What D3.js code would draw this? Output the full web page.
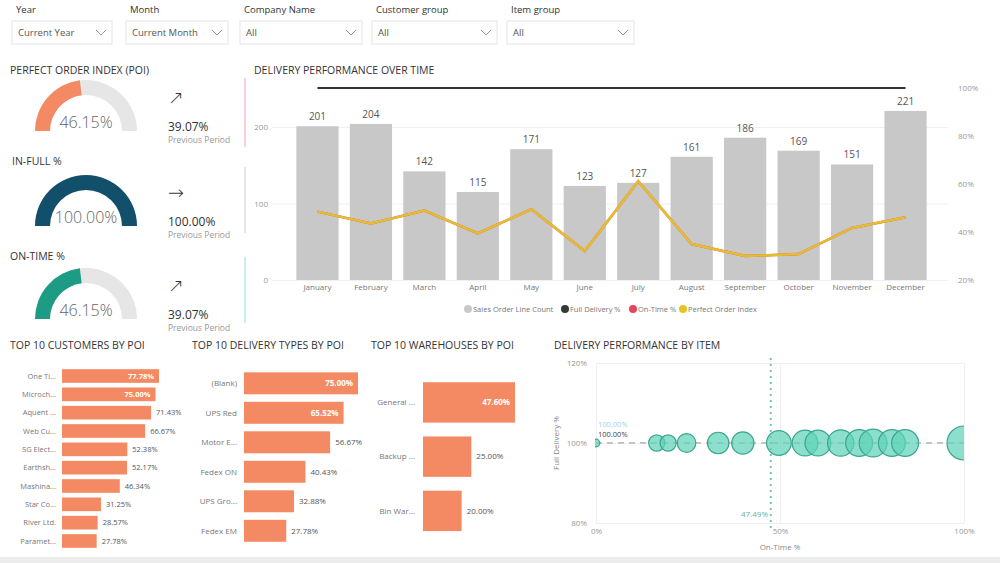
<!DOCTYPE html>
<html><head><meta charset="utf-8">
<script src="https://cdn.jsdelivr.net/npm/d3@7"></script>
<style>
body{margin:0;background:#fff;}
svg{display:block;font-family:"Open Sans","Noto Sans",sans-serif;}
</style></head><body>
<svg id="c" width="1000" height="563"></svg>
<script>
// ---------------- DATA ----------------
const filterLabels = ["Year", "Month", "Company Name", "Customer group", "Item group"];
const filterValues = ["Current Year", "Current Month", "All", "All", "All"];

const kpiTitles = ["PERFECT ORDER INDEX (POI)", "IN-FULL %", "ON-TIME %"];
const kpiValues = [46.15, 100.00, 46.15];
const kpiPrevious = [39.07, 100.00, 39.07];
const kpiArrows = ["↗", "→", "↗"];

const months = ["January","February","March","April","May","June","July","August","September","October","November","December"];
const salesOrderLineCount = [201, 204, 142, 115, 171, 123, 127, 161, 186, 169, 151, 221];
const fullDeliveryPct = [100, 100, 100, 100, 100, 100, 100, 100, 100, 100, 100, 100];
const onTimePct = [48.5, 43.6, 48.9, 39.4, 49.5, 32.1, 61.2, 35.0, 30.0, 30.8, 41.7, 46.15];
const perfectOrderIndex = [48.5, 43.6, 48.9, 39.4, 49.5, 32.1, 61.2, 35.0, 30.0, 30.8, 41.7, 46.15];
const leftTicks = [0, 100, 200];
const rightTicks = [20, 40, 60, 80, 100];
const legendLabels = ["Sales Order Line Count", "Full Delivery %", "On-Time %", "Perfect Order Index"];

const customerNames = ["One Ti...", "Microch...", "Aquent ...", "Web Cu...", "SG Elect...", "Earthsh...", "Mashina...", "Star Co...", "River Ltd.", "Paramet..."];
const customerPOI = [77.78, 75.00, 71.43, 66.67, 52.38, 52.17, 46.34, 31.25, 28.57, 27.78];

const deliveryTypes = ["(Blank)", "UPS Red", "Motor E...", "Fedex ON", "UPS Gro...", "Fedex EM"];
const deliveryTypePOI = [75.00, 65.52, 56.67, 40.43, 32.88, 27.78];

const warehouses = ["General ...", "Backup ...", "Bin War..."];
const warehousePOI = [47.60, 25.00, 20.00];

const itemOnTime = [0, 16.5, 19.6, 24.6, 33.2, 39.9, 49.7, 56.8, 60.3, 66.5, 71.5, 75.3, 80.4, 84.0, 100];
const itemFullDelivery = [100, 100, 100, 100, 100, 100, 100, 100, 100, 100, 100, 100, 100, 100, 100];
const itemOrderLines = [2, 9, 9, 12, 16, 17, 21, 23, 23, 24, 25, 27, 25, 25, 40];
const avgOnTime = 47.49;
const avgFullDelivery = 100.00;
const scatterXTicks = [0, 50, 100];
const scatterYTicks = [80, 100, 120];

// ---------------- DRAW ----------------
const svg = d3.select("#c");
svg.append("rect").attr("width", 1000).attr("height", 563).attr("fill", "#fff");

// Filters
const fX = [12, 126, 240, 372, 507];
const fW = [100, 102, 122, 125, 127];
filterLabels.forEach((l, i) => {
  svg.append("text").attr("x", fX[i] + 4).attr("y", 13).attr("font-size", 9.5).attr("fill", "#333").text(l);
  svg.append("rect").attr("x", fX[i]).attr("y", 21).attr("width", fW[i]).attr("height", 23)
    .attr("fill", "#fff").attr("stroke", "#e4e4e4");
  svg.append("text").attr("x", fX[i] + 6).attr("y", 36).attr("font-size", 9.5).attr("fill", "#555").text(filterValues[i]);
  const cx = fX[i] + fW[i] - 11;
  svg.append("path").attr("d", `M${cx-5},30 L${cx},35 L${cx+5},30`).attr("fill", "none").attr("stroke", "#999").attr("stroke-width", 1);
});

// KPI gauges
const gaugeColors = ["#f48a63", "#124f6b", "#1e9b85"];
const gaugeCY = [131, 226, 319];
const titleY = [74, 165, 260];
const angle = d3.scaleLinear().domain([0, 100]).range([-Math.PI / 2, Math.PI / 2]);
const arc = d3.arc().innerRadius(36).outerRadius(51);
kpiTitles.forEach((t, i) => {
  svg.append("text").attr("x", i === 1 ? 12 : 10).attr("y", titleY[i]).attr("font-size", 10.5).attr("fill", "#333").text(t);
  const g = svg.append("g").attr("transform", `translate(86,${gaugeCY[i]})`);
  g.append("path").attr("d", arc({startAngle: angle(0), endAngle: angle(100)})).attr("fill", "#e6e6e6");
  g.append("path").attr("d", arc({startAngle: angle(0), endAngle: angle(kpiValues[i])})).attr("fill", gaugeColors[i]);
  g.append("text").attr("x", 0).attr("y", -3).attr("text-anchor", "middle").attr("font-size", 16).attr("font-weight", 300)
    .attr("fill", "#666").text(kpiValues[i].toFixed(2) + "%");
  const base = gaugeCY[i];
  svg.append("text").attr("x", 168).attr("y", base - 27).attr("font-size", 19).attr("fill", "#333")
    .attr("font-family", "DejaVu Sans").attr("font-weight", 200).text(kpiArrows[i]);
  svg.append("text").attr("x", 168).attr("y", base).attr("font-size", 12).attr("fill", "#333").text(kpiPrevious[i].toFixed(2) + "%");
  svg.append("text").attr("x", 168).attr("y", base + 12).attr("font-size", 8.5).attr("fill", "#999").text("Previous Period");
});

// left accent lines
[[78, 147, "#f6c2cb"], [167, 233, "#dedede"], [257, 323, "#b5ead9"]].forEach(s => {
  svg.append("line").attr("x1", 245).attr("x2", 245).attr("y1", s[0]).attr("y2", s[1]).attr("stroke", s[2]).attr("stroke-width", 1.5);
});

// Main combo chart
svg.append("text").attr("x", 254).attr("y", 74).attr("font-size", 10.5).attr("fill", "#333").text("DELIVERY PERFORMANCE OVER TIME");
const x = d3.scaleBand().domain(months).range([291, 932]).paddingInner(0.21).paddingOuter(0.1);
const yL = d3.scaleLinear().domain([0, 250]).range([280, 88.75]);
const yR = d3.scaleLinear().domain([20, 100]).range([280, 88]);

const gl = svg.append("g").attr("transform", "translate(272,0)")
  .call(d3.axisLeft(yL).tickValues(leftTicks).tickSize(-(948 - 272)).tickPadding(4));
gl.select(".domain").remove();
gl.selectAll("line").attr("stroke", "#f0f0f0");
gl.selectAll("text").attr("fill", "#999").attr("font-size", 8).attr("font-family", "Open Sans");

const gr = svg.append("g").attr("transform", "translate(952,0)")
  .call(d3.axisRight(yR).tickValues(rightTicks).tickSize(0).tickPadding(6).tickFormat(d => d + "%"));
gr.select(".domain").remove();
gr.selectAll("text").attr("fill", "#999").attr("font-size", 8).attr("font-family", "Open Sans");

svg.append("g").selectAll("rect").data(months).join("rect")
  .attr("x", d => x(d)).attr("width", x.bandwidth())
  .attr("y", (d, i) => yL(salesOrderLineCount[i])).attr("height", (d, i) => yL(0) - yL(salesOrderLineCount[i]))
  .attr("fill", "#c8c8c8");
svg.append("g").selectAll("text").data(months).join("text")
  .attr("x", d => x(d) + x.bandwidth() / 2).attr("y", (d, i) => yL(salesOrderLineCount[i]) - 6)
  .attr("text-anchor", "middle").attr("font-size", 10).attr("fill", "#555")
  .text((d, i) => salesOrderLineCount[i]);

const gb = svg.append("g").attr("transform", "translate(0,280)")
  .call(d3.axisBottom(x).tickSize(0).tickPadding(4));
gb.select(".domain").remove();
gb.selectAll("text").attr("fill", "#777").attr("font-size", 8).attr("font-family", "Open Sans");

const line = arr => d3.line().x((d, i) => x(months[i]) + x.bandwidth() / 2).y(d => yR(d))(arr);
svg.append("path").attr("d", line(fullDeliveryPct)).attr("fill", "none").attr("stroke", "#333").attr("stroke-width", 2);
svg.append("path").attr("d", line(onTimePct)).attr("fill", "none").attr("stroke", "#e8455a").attr("stroke-width", 2.5);
svg.append("path").attr("d", line(perfectOrderIndex)).attr("fill", "none").attr("stroke", "#e3bf30").attr("stroke-width", 2.5);

// legend
const legColors = ["#c8c8c8", "#2f3b36", "#e8455a", "#e8c31f"];
const legX = [468, 565, 633, 683];
legendLabels.forEach((l, i) => {
  svg.append("circle").attr("cx", legX[i]).attr("cy", 309).attr("r", 4).attr("fill", legColors[i]);
  svg.append("text").attr("x", legX[i] + 5).attr("y", 312).attr("font-size", 7.5).attr("fill", "#777").text(l);
});

// Horizontal bar charts
function hbars(title, titleX, names, values, labelRight, barX, barMax, r0, r1, fontSize, insideCount) {
  svg.append("text").attr("x", titleX).attr("y", 349).attr("font-size", 10.5).attr("fill", "#333").text(title);
  const xs = d3.scaleLinear().domain([0, d3.max(values)]).range([barX, barMax]);
  const ys = d3.scaleBand().domain(names).range([r0, r1]).padding(0.255);
  const g = svg.append("g");
  g.selectAll("rect").data(names).join("rect")
    .attr("x", barX).attr("y", d => ys(d)).attr("height", ys.bandwidth())
    .attr("width", (d, i) => xs(values[i]) - barX).attr("fill", "#f48a63");
  g.selectAll("text.n").data(names).join("text").attr("class", "n")
    .attr("x", labelRight).attr("y", d => ys(d) + ys.bandwidth() / 2).attr("dy", "0.35em")
    .attr("text-anchor", "end").attr("font-size", fontSize).attr("fill", "#777").text(d => d);
  g.selectAll("text.v").data(names).join("text").attr("class", "v")
    .attr("x", (d, i) => i < insideCount ? xs(values[i]) - 5 : xs(values[i]) + 5)
    .attr("y", d => ys(d) + ys.bandwidth() / 2).attr("dy", "0.35em")
    .attr("text-anchor", (d, i) => i < insideCount ? "end" : "start")
    .attr("font-size", fontSize).attr("font-weight", (d, i) => i < insideCount ? 700 : 400)
    .attr("fill", (d, i) => i < insideCount ? "#fff" : "#555")
    .text((d, i) => values[i].toFixed(2) + "%");
}
hbars("TOP 10 CUSTOMERS BY POI", 10, customerNames, customerPOI, 56, 62, 159, 364.5, 552.5, 7.5, 2);
hbars("TOP 10 DELIVERY TYPES BY POI", 192, deliveryTypes, deliveryTypePOI, 237, 244, 358, 364.8, 549.3, 8, 2);
hbars("TOP 10 WAREHOUSES BY POI", 371, warehouses, warehousePOI, 415, 423, 515, 368.4, 544.9, 8, 1);

// Scatter
svg.append("text").attr("x", 554).attr("y", 349).attr("font-size", 10.5).attr("fill", "#333").text("DELIVERY PERFORMANCE BY ITEM");
const sx = d3.scaleLinear().domain([0, 100]).range([596, 964]);
const sy = d3.scaleLinear().domain([80, 120]).range([523, 363]);
const sr = d3.scaleSqrt().domain([0, 40]).range([0, 17]);

const sgx = svg.append("g").attr("transform", "translate(0,523)")
  .call(d3.axisBottom(sx).tickValues(scatterXTicks).tickSize(-160).tickPadding(5).tickFormat(d => d + "%"));
sgx.select(".domain").remove();
sgx.selectAll("line").attr("stroke", "#f0f0f0");
sgx.selectAll("text").attr("fill", "#999").attr("font-size", 8).attr("font-family", "Open Sans");

const sgy = svg.append("g").attr("transform", "translate(596,0)")
  .call(d3.axisLeft(sy).tickValues(scatterYTicks).tickSize(-368).tickPadding(9).tickFormat(d => d + "%"));
sgy.select(".domain").remove();
sgy.selectAll("line").attr("stroke", "#f0f0f0");
sgy.selectAll("text").attr("fill", "#999").attr("font-size", 8).attr("font-family", "Open Sans");

svg.append("text").attr("x", 780).attr("y", 550).attr("text-anchor", "middle").attr("font-size", 8).attr("fill", "#888").text("On-Time %");
svg.append("text").attr("transform", "translate(559,443) rotate(-90)").attr("text-anchor", "middle")
  .attr("font-size", 8).attr("fill", "#888").text("Full Delivery %");

// reference lines
svg.append("line").attr("x1", sx(0)).attr("x2", sx(100)).attr("y1", sy(avgFullDelivery)).attr("y2", sy(avgFullDelivery))
  .attr("stroke", "#c4c4c4").attr("stroke-width", 2).attr("stroke-dasharray", "6,5");
svg.append("line").attr("x1", sx(avgOnTime)).attr("x2", sx(avgOnTime)).attr("y1", 358).attr("y2", 530)
  .attr("stroke", "#78c3b2").attr("stroke-width", 2).attr("stroke-dasharray", "2,4");

svg.append("defs").append("clipPath").attr("id", "plotclip").append("rect")
  .attr("x", 595).attr("y", 363).attr("width", 369).attr("height", 160);
svg.append("g").attr("clip-path", "url(#plotclip)").selectAll("circle").data(itemOnTime).join("circle")
  .attr("cx", d => sx(d)).attr("cy", (d, i) => sy(itemFullDelivery[i])).attr("r", (d, i) => sr(itemOrderLines[i]))
  .attr("fill", "#5fd3b8").attr("fill-opacity", 0.72).attr("stroke", "#3aa68c").attr("stroke-width", 1.2);

svg.append("text").attr("x", 768).attr("y", 517).attr("text-anchor", "end").attr("font-size", 8).attr("fill", "#5fb39f").text(avgOnTime.toFixed(2) + "%");
svg.append("text").attr("x", 598).attr("y", 426.5).attr("font-size", 7.5).attr("fill", "#9fd2e6").text(avgFullDelivery.toFixed(2) + "%");
svg.append("text").attr("x", 598).attr("y", 436.5).attr("font-size", 7.5).attr("fill", "#444").text(avgFullDelivery.toFixed(2) + "%");

// bottom band
svg.append("rect").attr("x", 0).attr("y", 557).attr("width", 1000).attr("height", 6).attr("fill", "#ececec");
</script>
</body></html>
